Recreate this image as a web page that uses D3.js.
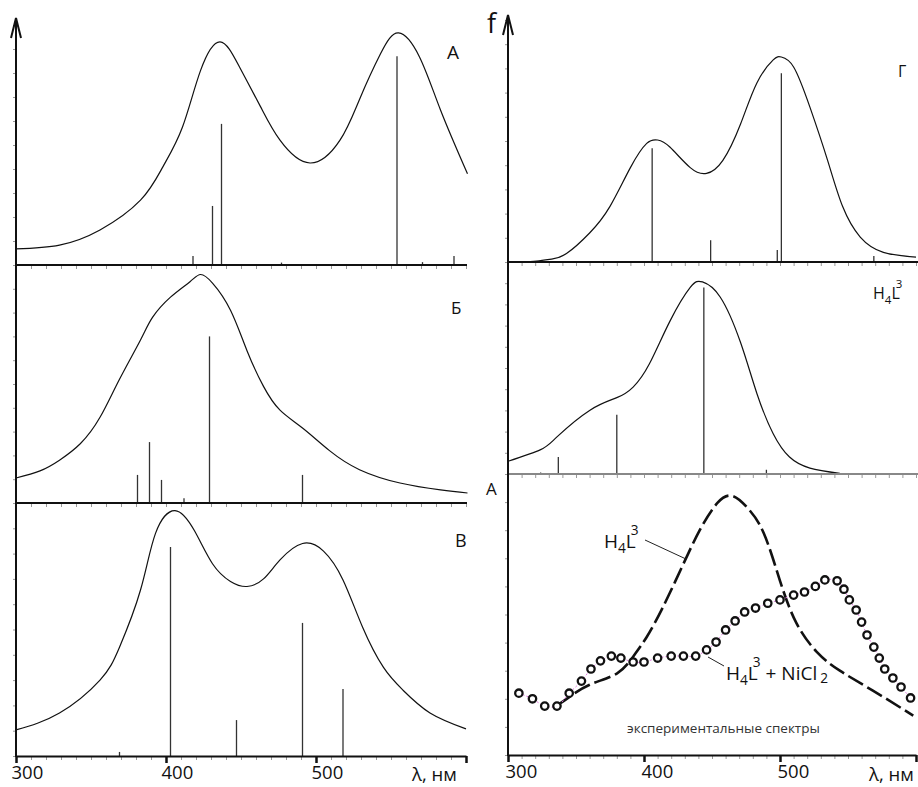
<!DOCTYPE html>
<html>
<head>
<meta charset="utf-8">
<title>Спектры</title>
<script src="https://d3js.org/d3.v7.min.js"></script>
<style>
  body { margin: 0; background: #fff; }
  svg { display: block; font-family: "Open Sans", sans-serif; }
  .curve { fill: none; stroke: #111; stroke-width: 1.2; }
  .stick { stroke: #333; stroke-width: 1.3; }
  .minor line { stroke: #999; }
  .minor path { display: none; }
</style>
</head>
<body>
<script>
// ---- data (wavelength, nm / relative intensity, %) ----
// left column
var wlA = [300, 329, 356, 383, 398, 411, 423, 436, 449, 463, 476, 496, 516, 529, 543, 555, 569, 583, 601];
var fA  = [6.7, 8.3, 14.6, 27, 41, 57.5, 81, 93, 82.5, 66, 52, 42.5, 52, 69, 88, 96.7, 86.7, 64.6, 38];
var stickWlA = [418, 431, 437, 477, 554, 571, 592];
var stickFA  = [3.8, 24.6, 58.8, 1, 87, 1.2, 3.8];

var wlB = [300, 316, 329, 343, 356, 369, 383, 391, 403, 416, 423, 431, 443, 454, 465, 476, 491, 509, 529, 556, 583, 601];
var fB  = [10.5, 13.5, 18, 25, 36, 52, 68.5, 78, 86.5, 93, 96, 92.4, 81, 64, 49, 39, 31.5, 22, 14, 8.4, 5.5, 4.2];
var stickWlB = [381, 389, 397, 412, 429, 491];
var stickFB  = [11.8, 25.6, 9.7, 2, 70, 11.8];

var wlV = [300, 329, 356, 369, 383, 393, 406, 419, 431, 443, 454, 465, 476, 491, 505, 518, 531, 545, 558, 576, 600];
var fV  = [10.3, 17, 30, 43, 65.6, 88, 97, 89, 76, 69, 67, 70, 77.5, 84, 81, 69.6, 51, 35, 26, 17, 10.7];
var stickWlV = [369, 403, 447, 491, 518];
var stickFV  = [1.6, 82.6, 14.2, 52.6, 26.5];

// right column
var wlG = [310, 321, 332, 343, 360, 375, 390, 402, 410, 419, 434, 446, 458, 471, 483, 495, 501, 510, 522, 535, 546, 559, 576, 600];
var fG  = [0, 0.4, 1.2, 3.5, 12, 23, 39, 49, 50.4, 47.5, 39, 36.6, 42, 57, 74, 83.5, 84.7, 80.6, 64, 42, 23, 10.3, 4, 2];
var stickWlG = [406, 449, 498, 501, 569];
var stickFG  = [47, 9, 5, 78, 2.5];

var wlH = [300, 324, 336, 360, 380, 392, 404, 419, 434, 443, 456, 471, 483, 495, 507, 522, 544];
var fH  = [6, 11.5, 17.5, 30, 36, 41, 52, 72, 88, 90.6, 83.5, 62, 38, 19, 8, 2.8, 0.3];
var stickWlH = [324, 337, 380, 444, 490];
var stickFH  = [0.7, 8, 28, 88, 2];

// experimental spectra
var wlExpL = [336, 345, 360, 380, 392, 402, 414, 428, 441, 454, 465, 476, 488, 500, 512, 527, 544, 568, 598];
var absExpL = [17.6, 20.6, 25, 29, 35, 42, 52.7, 67, 80, 89.7, 92.2, 88, 79, 62, 47, 36.7, 30, 23, 14];
var wlExpNi = [308, 318, 327, 336, 345, 354, 361, 368, 376, 383, 392, 400, 410, 420, 429, 438, 446, 453, 460, 467,
               474, 482, 491, 500, 510, 518, 526, 533, 542, 547, 551, 556, 560, 564, 569, 573, 577, 583, 589, 596];
var absExpNi = [22, 20, 17.4, 17.4, 22, 26.3, 30.6, 33.5, 35.2, 34.5, 33.1, 33.1, 34.5, 35.2, 35.2, 35.2, 37.4, 40.2, 44.5, 47.7,
                50.9, 52.3, 54, 55.2, 56.9, 58, 60, 62.3, 62, 59, 55.2, 51.6, 47.3, 42.7, 38.4, 34.5, 30.6, 27.4, 24.2, 20.3];

var xTicks = [300, 400, 500, 600];

// ---- layout ----
var w = 918, h = 787;
var svg = d3.select("body").append("svg").attr("width", w).attr("height", h);

var xLeft = d3.scaleLinear().domain([300, 600]).range([16, 466]);
var xRight = d3.scaleLinear().domain([300, 600]).range([508, 916]);

var panels = [
  { x: xLeft, y: d3.scaleLinear().domain([0, 100]).range([265, 25]), wl: wlA, f: fA, sw: stickWlA, sf: stickFA },
  { x: xLeft, y: d3.scaleLinear().domain([0, 100]).range([503, 265]), wl: wlB, f: fB, sw: stickWlB, sf: stickFB },
  { x: xLeft, y: d3.scaleLinear().domain([0, 100]).range([756, 503]), wl: wlV, f: fV, sw: stickWlV, sf: stickFV },
  { x: xRight, y: d3.scaleLinear().domain([0, 100]).range([262, 20]), wl: wlG, f: fG, sw: stickWlG, sf: stickFG },
  { x: xRight, y: d3.scaleLinear().domain([0, 100]).range([474, 262]), wl: wlH, f: fH, sw: stickWlH, sf: stickFH }
];
var yExp = d3.scaleLinear().domain([0, 100]).range([755, 474]);

// minor ticks on every baseline and on the vertical axes
function minorTicks(x, y0, y1, yBase) {
  svg.append("g").attr("class", "minor")
    .attr("transform", "translate(0," + yBase + ")")
    .call(d3.axisBottom(x).tickValues(d3.range(300, 601, 10)).tickSize(4).tickFormat(""));
  svg.append("g").attr("class", "minor")
    .attr("transform", "translate(" + x(300) + ",0)")
    .call(d3.axisLeft(d3.scaleLinear().domain([0, 1]).range([y0, y1])).ticks(14).tickSize(3).tickFormat(""));
}
panels.forEach(function(p) { minorTicks(p.x, p.y(0), p.y(100), p.y(0)); });
minorTicks(xRight, yExp(0), yExp(100), yExp(0));

// curves and sticks
panels.forEach(function(p, i) {
  var line = d3.line()
    .x(function(d) { return p.x(d[0]); })
    .y(function(d) { return p.y(d[1]); })
    .curve(d3.curveNatural);
  svg.append("path").attr("class", "curve")
    .attr("d", line(d3.zip(p.wl, p.f)));
  svg.selectAll(".stick" + i)
    .data(d3.zip(p.sw, p.sf))
    .enter().append("line")
    .attr("class", "stick stick" + i)
    .attr("x1", function(d) { return p.x(d[0]); })
    .attr("x2", function(d) { return p.x(d[0]); })
    .attr("y1", p.y(0))
    .attr("y2", function(d) { return p.y(d[1]); });
});

// baselines between panels
[265, 503].forEach(function(yy) {
  svg.append("line").attr("x1", 16).attr("x2", 467).attr("y1", yy).attr("y2", yy)
    .attr("stroke", "#111").attr("stroke-width", 2);
});
svg.append("line").attr("x1", 508).attr("x2", 918).attr("y1", 262).attr("y2", 262)
  .attr("stroke", "#111").attr("stroke-width", 1.8);
svg.append("line").attr("x1", 508).attr("x2", 918).attr("y1", 474).attr("y2", 474)
  .attr("stroke", "#888").attr("stroke-width", 2);

// experimental spectra
var expLine = d3.line()
  .x(function(d) { return xRight(d[0]); })
  .y(function(d) { return yExp(d[1]); });

svg.append("path")
  .attr("d", expLine.curve(d3.curveNatural)(d3.zip(wlExpL, absExpL)))
  .attr("fill", "none").attr("stroke", "#111").attr("stroke-width", 2.6)
  .attr("stroke-dasharray", "17,5");

svg.append("path")
  .attr("d", expLine.curve(d3.curveCatmullRom)(d3.zip(wlExpNi, absExpNi)))
  .attr("fill", "none").attr("stroke", "#e07ae0").attr("stroke-width", 1)
  .attr("stroke-dasharray", "2,2");

svg.selectAll(".pt")
  .data(d3.zip(wlExpNi, absExpNi))
  .enter().append("circle")
  .attr("class", "pt")
  .attr("cx", function(d) { return xRight(d[0]); })
  .attr("cy", function(d) { return yExp(d[1]); })
  .attr("r", 3.7)
  .attr("fill", "#fff").attr("stroke", "#111").attr("stroke-width", 2.3);

// bottom x axes
function bottomAxis(x, yBase, dx) {
  var g = svg.append("g")
    .attr("transform", "translate(0," + yBase + ")")
    .call(d3.axisBottom(x).tickValues(xTicks).tickSize(7).tickSizeOuter(0)
      .tickFormat(function(d) { return d < 600 ? d : ""; }));
  g.select(".domain").attr("stroke", "#111").attr("stroke-width", 2);
  g.selectAll(".tick line").attr("stroke", "#111").attr("stroke-width", 2.5);
  g.selectAll(".tick text")
    .attr("text-anchor", "start").attr("x", dx).attr("y", 6).attr("dy", "0.9em")
    .attr("font-size", 18.5).attr("font-family", "Open Sans, sans-serif").attr("fill", "#111");
}
bottomAxis(xLeft, 756, -5);
bottomAxis(xRight, 755, -3);

// vertical axes with arrows
function yAxisArrow(xx, top, bottom) {
  svg.append("line").attr("x1", xx).attr("x2", xx).attr("y1", top + 1).attr("y2", bottom)
    .attr("stroke", "#111").attr("stroke-width", 2);
  svg.append("path")
    .attr("d", "M" + (xx - 5) + "," + (top + 20) + "L" + xx + "," + top + "L" + (xx + 5) + "," + (top + 20))
    .attr("fill", "none").attr("stroke", "#111").attr("stroke-width", 2);
}
yAxisArrow(16, 18, 757);
yAxisArrow(508, 15, 756);

// texts
function label(x, y, txt, size) {
  return svg.append("text").attr("x", x).attr("y", y).attr("font-size", size)
    .attr("fill", "#111").text(txt);
}
label(447, 59, "A", 19);
label(451, 314, "Б", 17);
label(455, 547, "В", 18);
label(898, 77, "Г", 16);
label(486, 495, "A", 17);
label(487, 33, "f", 27);
label(412, 781, "λ, нм", 18.5);
label(869, 781, "λ, нм", 18.5);
label(627, 733, "экспериментальные спектры", 13.5).attr("fill", "#333");

// H4L3 style labels with sub/superscripts
function formula(x, y, size, parts) {
  var t = svg.append("text").attr("x", x).attr("y", y).attr("font-size", size).attr("fill", "#111");
  parts.forEach(function(p) {
    t.append("tspan")
      .attr("dx", p.dx || 0)
      .attr("dy", p.dy || 0)
      .attr("font-size", p.s ? size * p.s : size)
      .text(p.t);
  });
}
formula(873, 299, 16, [
  { t: "H" }, { t: "4", s: 0.72, dy: 5 }, { t: "L", dy: -5 }, { t: "3", s: 0.72, dx: -4, dy: -11 }
]);
formula(604, 548, 19, [
  { t: "H" }, { t: "4", s: 0.72, dy: 5 }, { t: "L", dy: -5 }, { t: "3", s: 0.72, dx: -5, dy: -13 }
]);
formula(726, 680, 19, [
  { t: "H" }, { t: "4", s: 0.72, dy: 5 }, { t: "L", dy: -5 }, { t: "3", s: 0.72, dx: -5, dy: -13 },
  { t: " + NiCl", dy: 13 }, { t: "2", s: 0.72, dx: 3, dy: 3 }
]);

// leader lines
svg.append("line").attr("x1", 645).attr("y1", 540).attr("x2", 686).attr("y2", 559)
  .attr("stroke", "#222").attr("stroke-width", 1);
svg.append("line").attr("x1", 708).attr("y1", 657).attr("x2", 724).attr("y2", 666)
  .attr("stroke", "#222").attr("stroke-width", 1);
</script>
</body>
</html>
